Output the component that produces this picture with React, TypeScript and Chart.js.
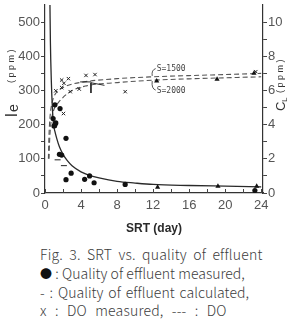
import React, { useEffect, useRef } from "react";
import { Chart, registerables } from "chart.js";
Chart.register(...registerables);

// Tick values
const xTickValues = [0, 2, 4, 6, 8, 10, 12, 14, 16, 18, 20, 22, 24];
const leftTickValues = [0, 50, 100, 150, 200, 250, 300, 350, 400, 450, 500];
const rightTickValues = [0, 1, 2, 3, 4, 5, 6, 7, 8, 9, 10];

// Calculated effluent quality (solid line, left axis)
const calcSrt = [0.55, 0.6, 0.7, 0.8, 0.93, 1.1, 1.3, 1.6, 2.0, 2.5, 3.0, 4, 5, 6, 8, 10, 12, 16, 20, 24];
const calcLe = [550, 440, 330, 260, 205, 180, 160, 135, 113, 94, 80, 62, 51, 44, 34, 29, 25, 22, 20, 18];

// Calculated DO (dashed lines, right axis)
const do1500Srt = [0.38, 0.42, 0.5, 0.6, 0.75, 1.0, 1.5, 2.4, 4.3, 8, 12, 16, 20, 24];
const do1500 = [2.0, 3.0, 4.0, 4.7, 5.2, 5.65, 6.0, 6.27, 6.5, 6.69, 6.8, 6.87, 6.93, 7.0];
const do2000Srt = [0.45, 0.5, 0.6, 0.75, 1.0, 1.5, 2.8, 4.6, 8, 12, 16, 20, 24];
const do2000 = [2.0, 2.9, 3.8, 4.4, 4.9, 5.3, 5.93, 6.27, 6.46, 6.6, 6.68, 6.74, 6.8];

// Measured effluent quality (filled circles, left axis)
const measSrt = [0.9, 1.0, 1.1, 1.1, 1.2, 1.67, 1.6, 1.85, 2.33, 2.9, 2.33, 4.4, 4.95, 5.45, 8.9, 23.3];
const measLe = [218, 196, 200, 258, 205, 247, 113, 111, 160, 58, 39, 40, 50, 30, 25, 7];

// Triangles (left axis and right axis)
const triSrt = [1.05, 12.5, 19.2, 23.5];
const triLe = [195, 17, 20, 20];
const triDoSrt = [12.4, 19.1, 23.2];
const triDo = [6.55, 6.65, 7.0];

// Calculated marks (short dashes, left axis)
const markSrt = [1.4, 2.1];
const markLe = [97, 80];

// DO measured (x marks, right axis)
const doMeasSrt = [1.2, 1.85, 1.85, 2.1, 2.6, 2.8, 2.05, 3.8, 4.55, 5.55, 8.9, 23.4];
const doMeas = [5.98, 6.61, 6.17, 6.42, 6.69, 5.93, 4.65, 6.08, 6.88, 6.93, 5.93, 7.1];

// DO range bars (right axis)
const barASrt = [3.9, 5.1];
const barAVal = [6.5, 6.5];
const barBSrt = [5.1, 5.1];
const barBVal = [6.45, 5.85];
const barCSrt = [5.1, 6.6];
const barCVal = [6.45, 6.3];

const pts = (xs: number[], ys: number[]) => xs.map((x, i) => ({ x, y: ys[i] }));

const INK = "#2a2a2a";
const TICK_FONT = { family: "'Liberation Sans', Arial, sans-serif", size: 13 };

const overlay = {
  id: "overlay",
  afterDraw(chart: any) {
    const ctx = chart.ctx;
    const xs = chart.scales.x;
    const y2 = chart.scales.y2;
    const area = chart.chartArea;
    ctx.save();
    // inward x ticks
    ctx.strokeStyle = "#444";
    ctx.lineWidth = 1;
    xTickValues.forEach((v) => {
      const px = Math.round(xs.getPixelForValue(v)) + 0.5;
      ctx.beginPath();
      ctx.moveTo(px, area.bottom);
      ctx.lineTo(px, area.bottom - 4);
      ctx.stroke();
    });
    // x title
    ctx.fillStyle = INK;
    ctx.font = "bold 12px 'Liberation Sans', Arial, sans-serif";
    ctx.textAlign = "center";
    ctx.textBaseline = "middle";
    ctx.fillText("SRT (day)", (area.left + area.right) / 2, 229);

    // left title (rotated)
    ctx.save();
    ctx.translate(17, 117);
    ctx.rotate(-Math.PI / 2);
    ctx.textAlign = "left";
    ctx.textBaseline = "alphabetic";
    ctx.fillStyle = "#333";
    ctx.font = "17px 'Liberation Sans', Arial, sans-serif";
    ctx.fillText("l", 0, 0);
    ctx.font = "14px 'Liberation Sans', Arial, sans-serif";
    ctx.fillText("e", 5, 1);
    ctx.font = "9px 'Liberation Sans', Arial, sans-serif";
    ctx.fillText("( p p m )", 34, -3);
    ctx.restore();

    // right title (rotated)
    ctx.save();
    ctx.translate(285, 111);
    ctx.rotate(-Math.PI / 2);
    ctx.textAlign = "left";
    ctx.textBaseline = "alphabetic";
    ctx.fillStyle = "#333";
    ctx.font = "13px 'Liberation Sans', Arial, sans-serif";
    ctx.fillText("C", 0, 0);
    ctx.font = "8px 'Liberation Sans', Arial, sans-serif";
    ctx.fillText("L", 9, 2);
    ctx.font = "9px 'Liberation Sans', Arial, sans-serif";
    ctx.fillText("( p p m )", 18, -2);
    ctx.restore();

    // S labels with leaders
    ctx.font = "8px 'DejaVu Sans Mono', monospace";
    ctx.fillStyle = "#444";
    ctx.textAlign = "left";
    ctx.textBaseline = "middle";
    const tx = xs.getPixelForValue(12.4);
    ctx.fillText("S=1500", tx, y2.getPixelForValue(7.28));
    ctx.fillText("S=2000", tx, y2.getPixelForValue(6.0));
    ctx.strokeStyle = "#444";
    ctx.lineWidth = 0.9;
    ctx.beginPath();
    ctx.moveTo(tx - 1, y2.getPixelForValue(7.28));
    ctx.quadraticCurveTo(xs.getPixelForValue(11.8), y2.getPixelForValue(7.2), xs.getPixelForValue(11.9), y2.getPixelForValue(6.85));
    ctx.stroke();
    ctx.beginPath();
    ctx.moveTo(xs.getPixelForValue(11.9), y2.getPixelForValue(6.55));
    ctx.quadraticCurveTo(xs.getPixelForValue(11.8), y2.getPixelForValue(6.1), tx - 1, y2.getPixelForValue(6.02));
    ctx.stroke();
    ctx.restore();
  },
};

export default function App() {
  const ref = useRef<HTMLCanvasElement | null>(null);
  useEffect(() => {
    if (!ref.current) return;
    const lineSeg = (xsA: number[], ysA: number[]) => ({
      type: "line" as const,
      data: pts(xsA, ysA),
      yAxisID: "y2",
      borderColor: INK,
      borderWidth: 1,
      pointRadius: 0,
      showLine: true,
      order: 3,
    });
    const chart = new Chart(ref.current, {
      type: "scatter",
      data: {
        datasets: [
          {
            type: "line",
            data: pts(calcSrt, calcLe),
            yAxisID: "y",
            borderColor: INK,
            borderWidth: 1.3,
            pointRadius: 0,
            showLine: true,
            cubicInterpolationMode: "monotone",
            order: 5,
          },
          {
            type: "line",
            data: pts(do1500Srt, do1500),
            yAxisID: "y2",
            borderColor: "#555",
            borderWidth: 1.1,
            borderDash: [5, 3],
            pointRadius: 0,
            showLine: true,
            cubicInterpolationMode: "monotone",
            order: 5,
          },
          {
            type: "line",
            data: pts(do2000Srt, do2000),
            yAxisID: "y2",
            borderColor: "#555",
            borderWidth: 1.1,
            borderDash: [5, 3],
            pointRadius: 0,
            showLine: true,
            cubicInterpolationMode: "monotone",
            order: 5,
          },
          lineSeg(barASrt, barAVal),
          lineSeg(barBSrt, barBVal),
          lineSeg(barCSrt, barCVal),
          {
            data: pts(measSrt, measLe),
            yAxisID: "y",
            pointStyle: "circle",
            pointRadius: 2.6,
            backgroundColor: "#111",
            borderColor: "#111",
            borderWidth: 0,
            order: 1,
          },
          {
            data: pts(triSrt, triLe),
            yAxisID: "y",
            pointStyle: "triangle",
            pointRadius: 3,
            backgroundColor: "#111",
            borderColor: "#111",
            borderWidth: 0,
            order: 1,
          },
          {
            data: pts(triDoSrt, triDo),
            yAxisID: "y2",
            pointStyle: "triangle",
            pointRadius: 3,
            backgroundColor: "#111",
            borderColor: "#111",
            borderWidth: 0,
            order: 1,
          },
          {
            data: pts(markSrt, markLe),
            yAxisID: "y",
            pointStyle: "line",
            pointRadius: 3,
            borderColor: "#222",
            borderWidth: 1,
            order: 1,
          },
          {
            data: pts(doMeasSrt, doMeas),
            yAxisID: "y2",
            pointStyle: "crossRot",
            pointRadius: 2.4,
            borderColor: "#222",
            borderWidth: 1,
            order: 1,
          },
        ],
      },
      options: {
        animation: false,
        responsive: false,
        layout: { padding: 0 },
        plugins: { legend: { display: false }, tooltip: { enabled: false } },
        scales: {
          x: {
            type: "linear",
            position: "bottom",
            min: 0,
            max: 24.2,
            afterBuildTicks: (s: any) => {
              s.ticks = xTickValues.map((v) => ({ value: v }));
            },
            afterFit: (s: any) => {
              s.height = 47;
              s.paddingLeft = 0;
              s.paddingRight = 0;
            },
            grid: { display: true, drawOnChartArea: false, drawTicks: false },
            border: { display: true, color: "#333", width: 1.2 },
            ticks: {
              padding: 5,
              color: "#555",
              font: TICK_FONT,
              maxRotation: 0,
              autoSkip: false,
              callback: (v: any) => (Number(v) % 4 === 0 ? String(v) : ""),
            },
          },
          y: {
            type: "linear",
            position: "left",
            min: 0,
            max: 550,
            afterBuildTicks: (s: any) => {
              s.ticks = leftTickValues.map((v) => ({ value: v }));
            },
            afterFit: (s: any) => {
              s.width = 45;
              s.paddingTop = 0;
              s.paddingBottom = 0;
            },
            grid: { drawOnChartArea: false, drawTicks: true, tickLength: 4, color: "#444" },
            border: { display: true, color: "#333", width: 1.2 },
            ticks: {
              padding: 1,
              color: "#555",
              font: TICK_FONT,
              autoSkip: false,
              callback: (v: any) => (Number(v) % 100 === 0 ? String(v) : ""),
            },
          },
          y2: {
            type: "linear",
            position: "right",
            min: 0,
            max: 11,
            afterBuildTicks: (s: any) => {
              s.ticks = rightTickValues.map((v) => ({ value: v }));
            },
            afterFit: (s: any) => {
              s.width = 29;
              s.paddingTop = 0;
              s.paddingBottom = 0;
            },
            grid: { drawOnChartArea: false, drawTicks: true, tickLength: 4, color: "#444" },
            border: { display: true, color: "#333", width: 1.2 },
            ticks: {
              padding: 1,
              color: "#555",
              font: TICK_FONT,
              autoSkip: false,
              callback: (v: any) => (Number(v) % 2 === 0 ? String(v) : ""),
            },
          },
        },
      },
      plugins: [overlay],
    } as any);
    return () => chart.destroy();
  }, []);

  const capStyle: React.CSSProperties = {
    position: "absolute",
    left: 40,
    whiteSpace: "nowrap",
    fontFamily: "'Noto Sans CJK KR', 'Noto Sans', sans-serif",
    fontSize: 14,
    fontWeight: 300,
    lineHeight: "18px",
    color: "#3c3c3c",
    letterSpacing: 0.2,
    wordSpacing: 3,
  };
  const capY = [245, 264, 283, 301];

  return (
    <div style={{ position: "absolute", left: 0, top: 0, width: 292, height: 322, background: "#fff", overflow: "hidden" }}>
      <canvas ref={ref} width={292} height={240} style={{ display: "block" }} />
      <div style={{ ...capStyle, top: capY[0] }}>Fig. 3. SRT vs. quality of effluent</div>
      <div style={{ ...capStyle, top: capY[1], letterSpacing: 0, wordSpacing: 0.2 }}>
        <span style={{ fontSize: 12, color: "#111" }}>●</span> : Quality of effluent measured,
      </div>
      <div style={{ ...capStyle, top: capY[2], letterSpacing: 0.05, wordSpacing: 1.7 }}>- : Quality of effluent calculated,</div>
      <div style={{ ...capStyle, top: capY[3], wordSpacing: 5 }}>x : DO measured, --- : DO</div>
    </div>
  );
}
